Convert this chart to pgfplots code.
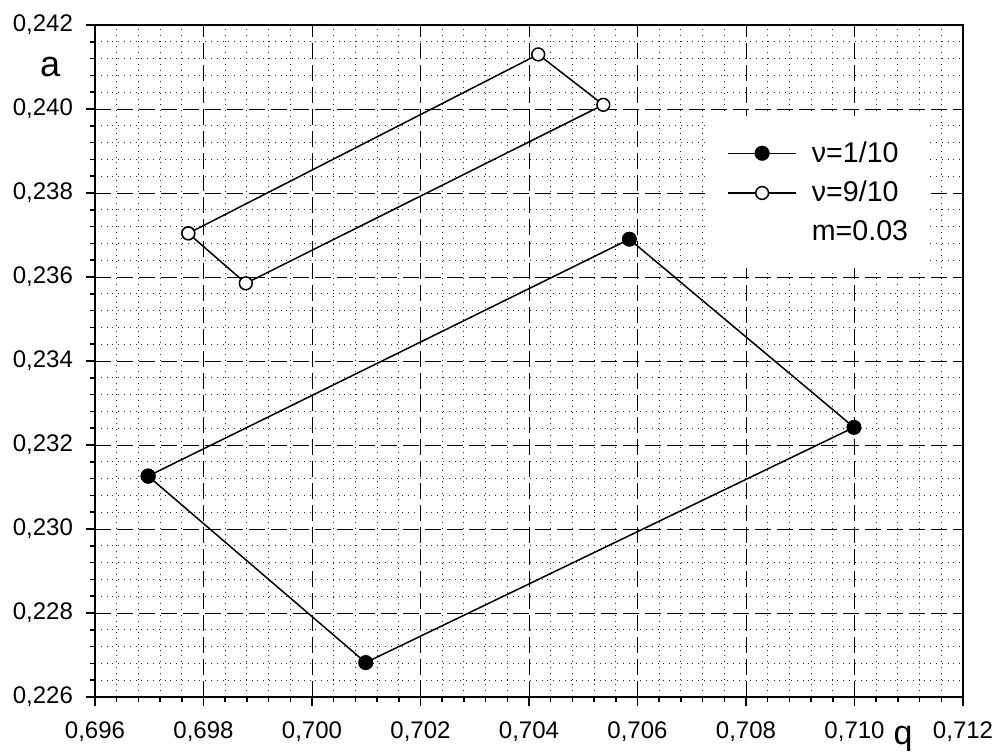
\documentclass[border=0pt]{standalone}
\usepackage{pgfplots}
\pgfplotsset{compat=1.18}
\usepackage{fontspec}
\setmainfont{Liberation Sans}
\begin{document}
\begin{tikzpicture}
\useasboundingbox (-47.5pt,-27.5pt) rectangle (452pt,348.5pt);
\begin{axis}[
  at={(0,0)}, anchor=south west,
  scale only axis, width=434pt, height=336pt,
  xmin=0.696, xmax=0.712, ymin=0.226, ymax=0.242,
  xtick={0.696,0.698,0.700,0.702,0.704,0.706,0.708,0.710,0.712},
  ytick={0.226,0.228,0.230,0.232,0.234,0.236,0.238,0.240,0.242},
  minor tick num=4,
  scaled ticks=false,
  /pgf/number format/.cd, fixed, fixed zerofill, precision=3, use comma, assume math mode=true,
  /pgfplots/.cd,
  tick label style={font=\fontsize{12}{14}\selectfont},
  xticklabel style={yshift=-4.5pt},
  yticklabel style={xshift=-3pt},
  grid=both,
  major grid style={black, line width=0.5pt, dash pattern=on 8pt off 3pt},
  minor grid style={black!85, line width=0.5pt, dash pattern=on 0.5pt off 2.4pt},
  tick align=outside,
  xtick pos=left, ytick pos=left,
  major tick length=4.5pt, minor tick length=2.5pt,
  tick style={black, line width=0.75pt},
  axis line style={line width=1pt},
  clip=false,
  legend style={draw=none, fill=none, inner sep=0pt,
    at={(axis description cs:0.7281,0.8274)}, anchor=north west,
    font=\fontsize{14.3}{17}\selectfont, row sep=8pt,
    nodes={inner sep=0pt}},
  legend cell align=left,
  legend image code/.code={%
    \draw[#1, mark repeat=2, mark phase=2] plot coordinates {(0pt,0pt) (17pt,0pt) (34pt,0pt)};
    \path (41.5pt,0pt);},
]
\fill[white] (axis description cs:0.706,0.638) rectangle (axis description cs:0.962,0.8646);
\addplot[black, line width=0.75pt, mark=*, mark size=3.4pt, mark options={solid, fill=black}]
  coordinates {(0.69698,0.23126) (0.70099,0.22682) (0.70999,0.23242) (0.70585,0.23690) (0.69698,0.23126)};
\addlegendentry{ν=1/10}
\addplot[black, line width=0.75pt, mark=*, mark size=3.2pt, mark options={solid, fill=white}]
  coordinates {(0.69772,0.23704) (0.69878,0.23585) (0.70537,0.24010) (0.70417,0.24130) (0.69772,0.23704)};
\addlegendentry{ν=9/10}
\addlegendimage{empty legend}
\addlegendentry{m=0.03}
\node[font=\fontsize{18}{20}\selectfont, anchor=base] at (axis description cs:-0.0518,0.924) {a};
\node[font=\fontsize{17}{19}\selectfont, anchor=base] at (axis description cs:0.931,-0.070) {q};
\end{axis}
\end{tikzpicture}
\end{document}
